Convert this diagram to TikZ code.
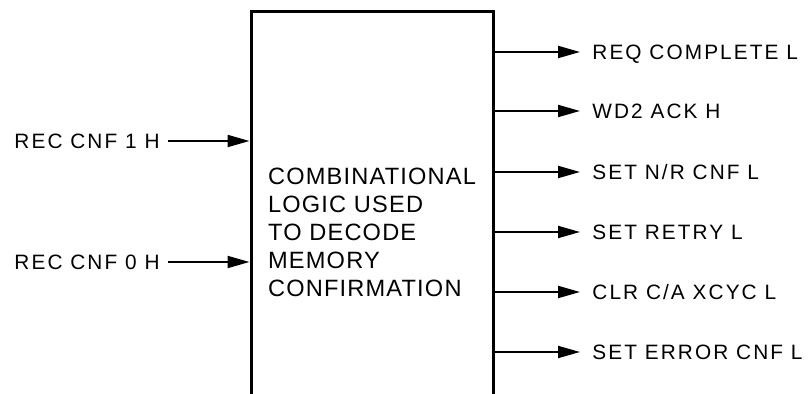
\documentclass[tikz,border=0pt]{standalone}
\usepackage{fontspec}
\setmainfont{Liberation Sans}
\newfontfamily\sigfont{Liberation Sans}[LetterSpace=10]
\newfontfamily\boxfont{Liberation Sans}[LetterSpace=5]
\usetikzlibrary{positioning,arrows.meta}

\begin{document}
\begin{tikzpicture}[
    x=0.5pt, y=-0.5pt,
    logicbox/.style={
        draw,
        line width=1.5pt,
        minimum width=121pt,
        minimum height=220pt,
        inner sep=0pt,
        align=left,
        font=\boxfont\fontsize{11.8}{14}\selectfont
    },
    sig/.style={line width=1pt, -{Triangle[length=11pt, width=6pt]}},
    inlabel/.style={anchor=east, inner sep=4pt, text height=7.3pt, text depth=0pt,
        font=\sigfont\fontsize{10.4}{12}\selectfont},
    outlabel/.style={anchor=west, inner sep=6pt, text height=7.3pt, text depth=0pt,
        font=\sigfont\fontsize{10.4}{12}\selectfont}
]

% Frame (box runs off the bottom edge)
\path[use as bounding box, clip] (0,0) rectangle (812,394);

% Logic block
\node[logicbox] (logic) at (372,232) {COMBINATIONAL\\LOGIC USED\\TO DECODE\\MEMORY\\CONFIRMATION};

% Inputs
\node[inlabel] (in1) at (168,141) {REC CNF 1 H};
\node[inlabel] (in0) at (168,262) {REC CNF 0 H};
\draw[sig] (in1.east) -- (in1.east -| logic.west);
\draw[sig] (in0.east) -- (in0.east -| logic.west);

% Outputs
\node[outlabel] (reqcmp) at (580,52) {REQ COMPLETE L};
\node[outlabel] (wdack) at (580,111) {WD2 ACK H};
\node[outlabel] (setnr) at (580,172) {SET N/R CNF L};
\node[outlabel] (setrty) at (580,232) {SET RETRY L};
\node[outlabel] (clrca) at (580,292) {CLR C/A XCYC L};
\node[outlabel] (seterr) at (580,352) {SET ERROR CNF L};
\draw[sig] (reqcmp.west -| logic.east) -- (reqcmp.west);
\draw[sig] (wdack.west -| logic.east) -- (wdack.west);
\draw[sig] (setnr.west -| logic.east) -- (setnr.west);
\draw[sig] (setrty.west -| logic.east) -- (setrty.west);
\draw[sig] (clrca.west -| logic.east) -- (clrca.west);
\draw[sig] (seterr.west -| logic.east) -- (seterr.west);

\end{tikzpicture}
\end{document}
